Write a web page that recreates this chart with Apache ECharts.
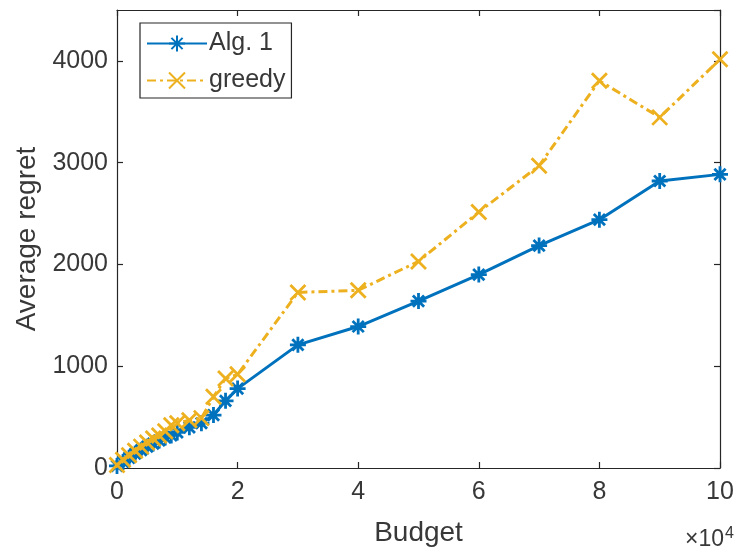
<!DOCTYPE html>
<html>
<head>
<meta charset="utf-8">
<script src="https://cdn.jsdelivr.net/npm/echarts@6/dist/echarts.min.js"></script>
<style>
  html, body { margin: 0; padding: 0; background: #fff; }
  #chart { width: 738px; height: 552px; }
</style>
</head>
<body>
<div id="chart"></div>
<script>
// Budget values (x axis) and average regret of each method
const budget = [0, 1000, 2000, 3000, 4000, 5000, 6000, 7000, 8000, 9000, 10000,
  12000, 14000, 16000, 18000, 20000,
  30000, 40000, 50000, 60000, 70000, 80000, 90000, 100000];
const alg1 = [20, 60, 100, 140, 175, 210, 240, 270, 300, 320, 350,
  400, 440, 520, 660, 780,
  1210, 1390, 1640, 1900, 2185, 2440, 2820, 2885];
const greedy = [30, 80, 125, 170, 210, 250, 290, 320, 360, 420, 440,
  470, 490, 700, 880, 920,
  1725, 1746, 2030, 2515, 2970, 3805, 3445, 4015];
const seriesNames = ['Alg. 1', 'greedy'];
const xTickStep = 20000;
const yTickStep = 1000;

const axisColor = '#262626';
const textColor = '#383838';
const fontFam = '"Liberation Sans", Arial, Helvetica, sans-serif';

// MATLAB-style markers drawn as stroked paths
const asterisk = 'path://M0 -10 L0 10 M-10 0 L10 0 M-7 -7 L7 7 M-7 7 L7 -7';
const cross = 'path://M-10 -10 L10 10 M-10 10 L10 -10';

const toPairs = (ys) => budget.map((b, i) => [b, ys[i]]);

const chart = echarts.init(document.getElementById('chart'), null, { renderer: 'canvas' });

const boxAxisCommon = {
  axisLine: { show: true, onZero: false, lineStyle: { color: axisColor, width: 1.2 } },
  axisTick: { show: true, inside: true, length: 6, lineStyle: { color: axisColor, width: 1.2 } },
  splitLine: { show: false }
};

chart.setOption({
  animation: false,
  backgroundColor: '#ffffff',
  grid: { left: 117, right: 18, top: 10, bottom: 82, containLabel: false },
  xAxis: [
    Object.assign({
      type: 'value', min: 0, max: 100000, interval: xTickStep, position: 'bottom',
      name: 'Budget', nameLocation: 'middle', nameGap: 51,
      nameTextStyle: { color: textColor, fontSize: 28, fontFamily: fontFam },
      axisLabel: {
        color: textColor, fontSize: 25, fontFamily: fontFam, margin: 12,
        formatter: (v) => String(v / 10000)
      }
    }, boxAxisCommon),
    Object.assign({
      type: 'value', min: 0, max: 100000, interval: xTickStep, position: 'top',
      axisLabel: { show: false }
    }, boxAxisCommon)
  ],
  yAxis: [
    Object.assign({
      type: 'value', min: 0, max: 4500, interval: yTickStep, position: 'left',
      name: 'Average regret', nameLocation: 'middle', nameGap: 76, nameRotate: 90,
      nameTextStyle: { color: textColor, fontSize: 28, fontFamily: fontFam },
      axisLabel: {
        color: textColor, fontSize: 25, fontFamily: fontFam, margin: 9,
        showMaxLabel: false, formatter: (v) => String(v)
      }
    }, boxAxisCommon),
    Object.assign({
      type: 'value', min: 0, max: 4500, interval: yTickStep, position: 'right',
      axisLabel: { show: false }
    }, boxAxisCommon)
  ],
  legend: {
    orient: 'vertical', left: 140, top: 23,
    itemWidth: 60, itemHeight: 20, itemGap: 12,
    padding: [8, 6, 5, 6],
    borderColor: axisColor, borderWidth: 1.2, backgroundColor: '#ffffff',
    textStyle: { color: textColor, fontSize: 25, fontFamily: fontFam, padding: [0, 0, 0, -3] },
    data: seriesNames
  },
  series: [
    {
      name: seriesNames[0], type: 'line', data: toPairs(alg1),
      xAxisIndex: 0, yAxisIndex: 0,
      symbol: asterisk, symbolSize: 16, showAllSymbol: true,
      lineStyle: { color: '#0072BD', width: 3 },
      itemStyle: { color: '#0072BD', borderColor: '#0072BD', borderWidth: 2.8 },
      z: 3
    },
    {
      name: seriesNames[1], type: 'line', data: toPairs(greedy),
      xAxisIndex: 0, yAxisIndex: 0,
      symbol: cross, symbolSize: 15, showAllSymbol: true,
      lineStyle: { color: '#EDB120', width: 3, type: [9, 4, 3, 4] },
      itemStyle: { color: '#EDB120', borderColor: '#EDB120', borderWidth: 2.8 },
      z: 4
    }
  ],
  graphic: [
    {
      type: 'text', right: 4, top: 526,
      style: {
        text: '×10{sup|4}',
        fill: textColor, fontSize: 23, fontFamily: fontFam,
        rich: { sup: { fontSize: 16, fill: textColor, fontFamily: fontFam, verticalAlign: 'top', padding: [0, 0, 12, 1] } }
      }
    }
  ]
});
</script>
</body>
</html>
